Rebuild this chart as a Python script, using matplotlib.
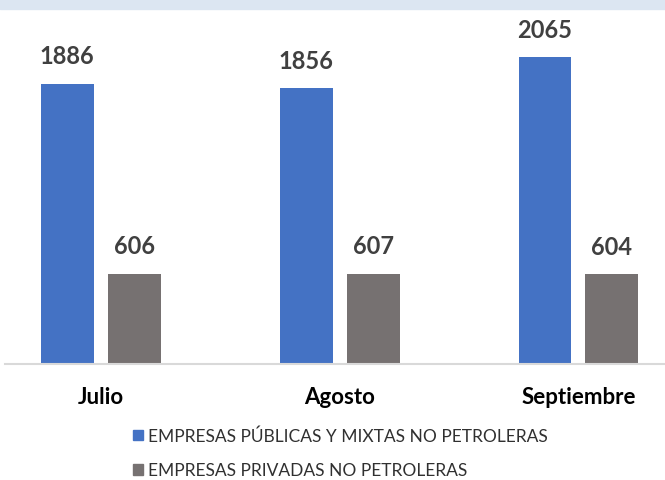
import matplotlib.pyplot as plt
import numpy as np
from matplotlib.patches import Rectangle

meses = ["Julio", "Agosto", "Septiembre"]
publicas = [1886, 1856, 2065]
privadas = [606, 607, 604]
series_names = ["EMPRESAS PÚBLICAS Y MIXTAS NO PETROLERAS",
                "EMPRESAS PRIVADAS NO PETROLERAS"]

azul = "#4472C4"
gris = "#767171"
texto = "#404040"

plt.rcParams['font.family'] = ['Lato', 'DejaVu Sans']

W, H = 665, 481
fig = plt.figure(figsize=(W / 100, H / 100), dpi=100)

# light band at the top
fig.patches.append(Rectangle((0, 1 - 10 / H), 1, 10 / H, transform=fig.transFigure,
                             color="#DCE6F2", zorder=0))

# axes in pixel coords: baseline at y=365, x from 5 to 665
ax = fig.add_axes([5 / W, (H - 365) / H, 660 / W, 355 / H])
ax.set_xlim(-0.4, 2.362)
ax.set_ylim(0, 2390)

x = np.arange(len(meses))
w = 53 / 239
off = 67 / 2 / 239
b1 = ax.bar(x - off, publicas, w, color=azul)
b2 = ax.bar(x + off, privadas, w, color=gris)

for bars, vals in ((b1, publicas), (b2, privadas)):
    for r, v in zip(bars, vals):
        ax.annotate(str(v), (r.get_x() + r.get_width() / 2, v), xytext=(0, 12),
                    textcoords="offset points", ha="center", va="bottom",
                    fontsize=17, fontweight="bold", color=texto)

for s in ["top", "right", "left"]:
    ax.spines[s].set_visible(False)
ax.spines["bottom"].set_color("#D9D9D9")
ax.spines["bottom"].set_linewidth(1.5)
ax.set_yticks([])
ax.set_xticks(x)
ax.set_xticklabels(meses, fontsize=16, fontweight="bold", color="black")
ax.tick_params(axis="x", length=0, pad=16)

handles = [Rectangle((0, 0), 1, 1, color=azul), Rectangle((0, 0), 1, 1, color=gris)]
fig.legend(handles, series_names, loc="center left",
           bbox_to_anchor=(117 / W, (H - 454) / H), frameon=False,
           fontsize=12.5, labelcolor="#303030", handlelength=0.58, handleheight=0.58,
           handletextpad=0.3, labelspacing=1.05)

fig.savefig("out.png", dpi=100)
